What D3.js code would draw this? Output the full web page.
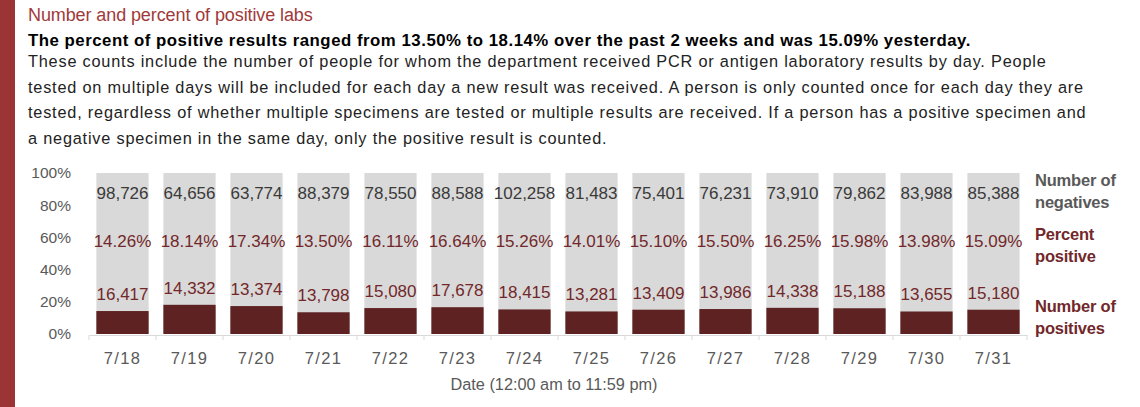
<!DOCTYPE html>
<html lang="en">
<head>
<meta charset="UTF-8">
<title>Number and percent of positive labs</title>
<script src="https://cdn.jsdelivr.net/npm/d3@7"></script>
<style>
    body { margin: 0; background: #fff; }
    svg { display: block; }
</style>
</head>
<body>
<div id="chart"></div>
<script>
    // data
    const dates = ["7/18", "7/19", "7/20", "7/21", "7/22", "7/23", "7/24", "7/25", "7/26", "7/27", "7/28", "7/29", "7/30", "7/31"];
    const negatives = [98726, 64656, 63774, 88379, 78550, 88588, 102258, 81483, 75401, 76231, 73910, 79862, 83988, 85388];
    const positives = [16417, 14332, 13374, 13798, 15080, 17678, 18415, 13281, 13409, 13986, 14338, 15188, 13655, 15180];
    const percents = [14.26, 18.14, 17.34, 13.50, 16.11, 16.64, 15.26, 14.01, 15.10, 15.50, 16.25, 15.98, 13.98, 15.09];
    const yTicks = [0, 20, 40, 60, 80, 100];

    const title = "Number and percent of positive labs";
    const subtitle = "The percent of positive results ranged from 13.50% to 18.14% over the past 2 weeks and was 15.09% yesterday.";
    const bodyLines = [
        "These counts include the number of people for whom the department received PCR or antigen laboratory results by day. People",
        "tested on multiple days will be included for each day a new result was received. A person is only counted once for each day they are",
        "tested, regardless of whether multiple specimens are tested or multiple results are received. If a person has a positive specimen and",
        "a negative specimen in the same day, only the positive result is counted."
    ];

    const width = 1140, height = 407;
    const font = "'Liberation Sans', Arial, sans-serif";
    const darkRed = "#5e2222";
    const labelRed = "#72282a";
    const gray = "#595959";

    const svg = d3.select("#chart").append("svg")
        .attr("width", width)
        .attr("height", height)
        .style("font-family", font);

    // left accent band
    svg.append("rect").attr("x", 0).attr("y", 0).attr("width", 15).attr("height", height).attr("fill", "#9b3435");

    svg.append("text").attr("x", 28).attr("y", 21)
        .attr("fill", "#a03a3a").attr("font-size", 18).attr("letter-spacing", -0.1).text(title);
    svg.append("text").attr("x", 28).attr("y", 46)
        .attr("fill", "#000").attr("font-size", 16.8).attr("font-weight", "bold")
        .attr("letter-spacing", 0.52).text(subtitle);
    svg.append("g").selectAll("text").data(bodyLines).join("text")
        .attr("x", 28).attr("y", (d, i) => 67 + i * 25.5)
        .attr("fill", "#222").attr("font-size", 16.3).attr("letter-spacing", 0.8)
        .text(d => d);

    const x = d3.scaleBand().domain(dates).range([89, 1027]).paddingInner(0.22).paddingOuter(0.11);
    const y = d3.scaleLinear().domain([0, 100]).range([334, 173]);

    // y axis labels
    svg.append("g").attr("transform", "translate(71,0)")
        .call(d3.axisLeft(y).tickValues(yTicks).tickFormat(d => d + "%").tickSize(0).tickPadding(0))
        .call(g => g.select(".domain").remove())
        .call(g => g.selectAll("text").attr("fill", gray).attr("font-size", 15.5).attr("font-family", font));

    const idx = d3.range(dates.length);

    // background (100%) bars
    svg.append("g").selectAll("rect").data(idx).join("rect")
        .attr("x", i => x(dates[i])).attr("width", x.bandwidth())
        .attr("y", y(100)).attr("height", y(0) - y(100))
        .attr("fill", "#d9d9d9");

    // positive share bars
    svg.append("g").selectAll("rect").data(idx).join("rect")
        .attr("x", i => x(dates[i])).attr("width", x.bandwidth())
        .attr("y", i => y(percents[i])).attr("height", i => y(0) - y(percents[i]))
        .attr("fill", darkRed);

    // x axis
    svg.append("g").attr("transform", `translate(0,${y(0) + 1})`)
        .call(d3.axisBottom(x).tickSize(0).tickPadding(17))
        .call(g => g.select(".domain").attr("stroke", "#d9d9d9"))
        .call(g => g.selectAll("text").attr("fill", gray).attr("font-size", 16.5)
            .attr("letter-spacing", 1.3).attr("font-family", font));
    // category boundary ticks
    svg.append("g").selectAll("line").data(d3.range(dates.length + 1)).join("line")
        .attr("x1", i => 89 + i * x.step()).attr("x2", i => 89 + i * x.step())
        .attr("y1", y(0) + 1).attr("y2", y(0) + 6)
        .attr("stroke", "#d9d9d9");

    const cx = i => x(dates[i]) + x.bandwidth() / 2;
    const labels = svg.append("g").attr("text-anchor", "middle").attr("font-size", 17);
    labels.selectAll(".neg").data(idx).join("text").attr("class", "neg")
        .attr("x", cx).attr("y", 199).attr("fill", "#3a3a3a")
        .text(i => d3.format(",")(negatives[i]));
    labels.selectAll(".pct").data(idx).join("text").attr("class", "pct")
        .attr("x", cx).attr("y", 247).attr("fill", labelRed)
        .text(i => percents[i].toFixed(2) + "%");
    labels.selectAll(".pos").data(idx).join("text").attr("class", "pos")
        .attr("x", cx).attr("y", i => y(percents[i]) - 11).attr("fill", labelRed)
        .text(i => d3.format(",")(positives[i]));

    // legend on the right
    const legend = [
        {lines: ["Number of", "negatives"], y: 186, color: gray},
        {lines: ["Percent", "positive"], y: 240, color: labelRed},
        {lines: ["Number of", "positives"], y: 312, color: labelRed}
    ];
    svg.append("g").selectAll("text").data(legend).join("text")
        .attr("x", 1035).attr("y", d => d.y).attr("fill", d => d.color)
        .attr("font-size", 16.5).attr("font-weight", "bold").attr("letter-spacing", -0.2)
        .selectAll("tspan").data(d => d.lines).join("tspan")
        .attr("x", 1035).attr("dy", (d, i) => i ? 22 : 0).text(d => d);

    svg.append("text").attr("x", 554).attr("y", 390).attr("text-anchor", "middle")
        .attr("fill", gray).attr("font-size", 16.3).text("Date (12:00 am to 11:59 pm)");
</script>
</body>
</html>
